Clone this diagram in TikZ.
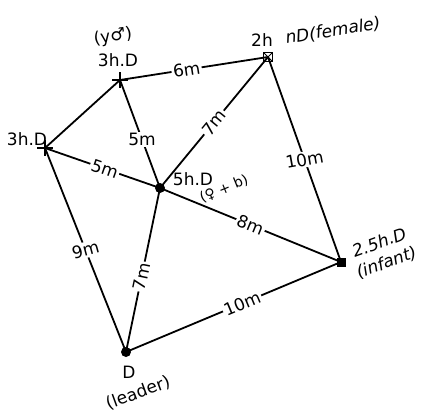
\documentclass[tikz,border=0pt]{standalone}
\usepackage{fontspec}
\setmainfont{DejaVu Sans}
\usepackage{tikz}
\usetikzlibrary{arrows.meta,positioning,shapes.misc}

\begin{document}
\begin{tikzpicture}[x=1pt,y=-1pt,
    link/.style={line width=1.8pt,black},
    dist/.style={fill=white,inner sep=1.5pt,font=\fontsize{17}{19}\selectfont},
    tag/.style={inner sep=0pt,font=\fontsize{17}{19}\selectfont},
    crossmark/.style={cross out,draw,line width=1.3pt,rotate=45,minimum size=10pt,inner sep=0pt},
    boxmark/.style={draw,line width=1.2pt,minimum size=9pt,inner sep=0pt,
        path picture={\draw[line width=0.9pt] (path picture bounding box.south west) -- (path picture bounding box.north east)
        (path picture bounding box.north west) -- (path picture bounding box.south east);}},
    dotmark/.style={circle,fill=black,minimum size=10pt,inner sep=0pt},
    sqmark/.style={rectangle,fill=black,minimum size=9pt,inner sep=0pt}]
  \useasboundingbox (0,0) rectangle (424,413);

  % individuals
  \node[crossmark] (left) at (45,148) {};
  \node[crossmark] (young) at (120,80) {};
  \node[boxmark] (female) at (268,57) {};
  \node[dotmark] (mother) at (160,188) {};
  \node[sqmark] (infant) at (341,262) {};
  \node[dotmark] (leader) at (126,352) {};

  % names
  \node[tag] (tleft) at (27,139) {3h.D};
  \node[tag] (tyoung) at (118,60) {3h.D};
  \node[tag,rotate=8] (tyoung2) at (113,37) {(y♂)};
  \node[tag] (tfemale) at (262,40) {2h};
  \node[tag,rotate=9] (tfemale2) at (333,31) {\textit{nD(female)}};
  \node[tag] (tmother) at (193,179) {5h.D};
  \node[tag,rotate=22,font=\fontsize{14}{16}\selectfont] (tmother2) at (224,189) {(♀ + b)};
  \node[tag,rotate=20,align=center,font=\itshape\fontsize{17}{21}\selectfont] (tinfant) at (383,253) {2.5h.D\\(infant)};
  \node[tag] (tleader) at (129,372) {D};
  \node[tag,rotate=20] (tleader2) at (138,393) {(leader)};

  % distances
  \draw[link] (left.center) -- (young.center);
  \draw[link] (young.center) -- node[dist,sloped,pos=0.45] {6m} (female.center);
  \draw[link] (young.center) -- node[dist,pos=0.55] {5m} (mother.center);
  \draw[link] (female.center) -- node[dist,sloped,pos=0.5] {7m} (mother.center);
  \draw[link] (left.center) -- node[dist,sloped,pos=0.52] {5m} (mother.center);
  \draw[link] (female.center) -- node[dist,rotate=10,pos=0.5] {10m} (infant.center);
  \draw[link] (mother.center) -- node[dist,sloped,pos=0.5] {8m} (infant.center);
  \draw[link] (left.center) -- node[dist,rotate=15,pos=0.5] {9m} (leader.center);
  \draw[link] (mother.center) -- node[dist,sloped,pos=0.54] {7m} (leader.center);
  \draw[link] (leader.center) -- node[dist,sloped,pos=0.54] {10m} (infant.center);
\end{tikzpicture}
\end{document}
